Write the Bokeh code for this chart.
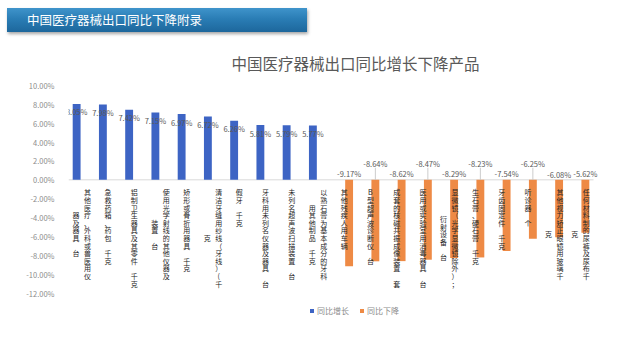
from bokeh.plotting import figure
from bokeh.models import (ColumnDataSource, Range1d, FixedTicker, PrintfTickFormatter,
                          Span, Label, Legend, LegendItem, Div)
from bokeh.layouts import column
from bokeh.core.properties import value
from bokeh.embed import file_html
from bokeh.resources import INLINE

FONT = "Noto Sans CJK SC"

# ---------------- data ----------------
banner_text = "中国医疗器械出口同比下降附录"
chart_title = "中国医疗器械出口同比增长下降产品"
series_names = ["同比增长", "同比下降"]

up_categories = [
    "其他医疗、外科或兽医用仪器及器具 台",
    "急救药箱、药包 千克",
    "铝制卫生器具及其零件 千克",
    "使用光学射线的其他仪器及装置 台",
    "矫形或骨折用器具 千克",
    "清洁牙缝用纱线（牙线）(千克",
    "假牙 千克",
    "牙科用未列名仪器及器具 台",
    "未列名超声波扫描装置 台",
    "以熟石膏为基本成分的牙科用其他制品 千克",
]
up_label_columns = [
    ["其他医疗、外科或兽医用仪", "器及器具 台"],
    ["急救药箱、药包 千克"],
    ["铝制卫生器具及其零件 千克"],
    ["使用光学射线的其他仪器及", "装置 台"],
    ["矫形或骨折用器具 千克"],
    ["清洁牙缝用纱线（牙线）(千", "克"],
    ["假牙 千克"],
    ["牙科用未列名仪器及器具 台"],
    ["未列名超声波扫描装置 台"],
    ["以熟石膏为基本成分的牙科", "用其他制品 千克"],
]
up_values = [8.05, 7.98, 7.42, 7.15, 6.97, 6.72, 6.26, 5.81, 5.79, 5.77]

down_categories = [
    "其他残疾人用车辆",
    "B型超声波诊断仪 台",
    "成套的核磁共振成像装置 套",
    "医用或实验室用消毒器具 台",
    "显微镜（光学显微镜除外）；衍射设备 台",
    "生石膏、硬石膏 千克",
    "牙齿固定件 千克",
    "听诊器 个",
    "其他视力矫正眼镜用玻璃千克",
    "任何材料制的尿裤及尿布千克",
]
down_label_columns = [
    ["其他残疾人用车辆"],
    ["B型超声波诊断仪 台"],
    ["成套的核磁共振成像装置 套"],
    ["医用或实验室用消毒器具 台"],
    ["显微镜（光学显微镜除外）；", "衍射设备 台"],
    ["生石膏、硬石膏 千克"],
    ["牙齿固定件 千克"],
    ["听诊器 个"],
    ["其他视力矫正眼镜用玻璃千", "克"],
    ["任何材料制的尿裤及尿布千", "克"],
]
down_values = [-9.17, -8.64, -8.62, -8.47, -8.29, -8.23, -7.54, -6.25, -6.08, -5.62]

y_ticks = [10, 8, 6, 4, 2, 0, -2, -4, -6, -8, -10, -12]

# ---------------- layout constants ----------------
W = 640
DIV_H = 40
FIG_H = 353 - DIV_H
BL = 68                      # left border (axis panel)
Y_TOP_PX = 85 - DIV_H        # pixel row of the top tick inside the figure
Y_BOT_PX = 292.5 - DIV_H     # pixel row of the bottom tick
CAT_PX = 26.25               # pixel width of one category slot
BLUE = "#3d64c4"
ORANGE = "#ee8a45"
GREY_TXT = "#595959"
AX_TXT = "#8c8c8c"
BAR_SHIFT = 0.19
BAR_W = 0.30

n_up = len(up_categories)
n_dn = len(down_categories)
x_up = list(range(n_up))
x_dn = list(range(n_up, n_up + n_dn))

tmax, tmin = max(y_ticks), min(y_ticks)
ppu = (Y_BOT_PX - Y_TOP_PX) / (tmax - tmin)
y_start = tmin - (FIG_H - Y_BOT_PX) / ppu
y_end = tmax + Y_TOP_PX / ppu
x_start = -0.5
x_end = x_start + (W - BL) / CAT_PX

p = figure(width=W, height=FIG_H, x_range=Range1d(x_start, x_end),
           y_range=Range1d(y_start, y_end),
           output_backend="svg", toolbar_location=None, title=None,
           min_border_left=BL, min_border_right=0, min_border_top=0, min_border_bottom=0)
p.outline_line_color = None
p.background_fill_color = "white"
p.border_fill_color = "white"
p.xgrid.visible = False
p.ygrid.visible = False
p.xaxis.visible = False

ya = p.yaxis[0]
ya.ticker = FixedTicker(ticks=y_ticks)
ya.formatter = PrintfTickFormatter(format="%.2f%%")
ya.axis_line_color = None
ya.major_tick_line_color = None
ya.minor_tick_line_color = None
ya.major_label_text_color = AX_TXT
ya.major_label_text_font = FONT
ya.major_label_text_font_size = "7.5px"
ya.major_label_standoff = 8

# zero line across the category area
p.segment(x0=[x_start], y0=[0], x1=[n_up + n_dn - 0.5], y1=[0], line_color="#d9d9d9", line_width=1)

# bars
up_src = ColumnDataSource(dict(x=[v - BAR_SHIFT for v in x_up], val=up_values,
                               lab=["%.2f%%" % v for v in up_values]))
down_src = ColumnDataSource(dict(x=[v + BAR_SHIFT for v in x_dn], val=down_values,
                                 lab=["%.2f%%" % v for v in down_values]))

r_up = p.vbar(x="x", top="val", bottom=0, width=BAR_W, source=up_src,
              fill_color=BLUE, line_color=None)
r_dn = p.vbar(x="x", top=0, bottom="val", width=BAR_W, source=down_src,
              fill_color=ORANGE, line_color=None)

# value labels for rising bars
p.text(x="x", y="val", text="lab", source=up_src, y_offset=8,
       text_align="center", text_baseline="middle",
       text_font=value(FONT), text_font_size="7.5px", text_color=GREY_TXT)

# value labels for falling bars (above the zero line, staggered)
lift_px = [6.5, 16.5, 6.5, 16.5, 6.5, 16.5, 6.5, 16.5, 5.5, 6.5]
down_src.data["yo"] = [-v for v in lift_px]
p.text(x="x", y=0, text="lab", source=down_src, y_offset="yo",
       text_align="center", text_baseline="middle",
       text_font=value(FONT), text_font_size="7.5px", text_color=GREY_TXT)
lead_x = [x for x, l in zip(down_src.data["x"], lift_px) if l > 10]
p.segment(x0=lead_x, y0=[0] * len(lead_x), x1=lead_x, y1=[12.0 / ppu] * len(lead_x),
          line_color="#bfbfbf", line_width=0.8)

# vertical category labels, one glyph per character
PITCH = 7.6
TOP = 7.5
COLGAP = 11.5
cx, cy, ct, cxo, cyo = [], [], [], [], []
for xi, cols in zip(x_up + x_dn, up_label_columns + down_label_columns):
    L = max(len(c) for c in cols)
    n = len(cols)
    for k, col in enumerate(cols):
        start = (L - len(col)) / 2.0
        for j, ch in enumerate(col):
            if ch == " ":
                continue
            cx.append(xi)
            cy.append(0)
            ct.append(ch)
            cxo.append(((n - 1) / 2.0 - k) * COLGAP)
            cyo.append(TOP + (start + j) * PITCH)
p.text(x="x", y="y", text="t", x_offset="xo", y_offset="yo",
       source=ColumnDataSource(dict(x=cx, y=cy, t=ct, xo=cxo, yo=cyo)),
       text_align="center", text_baseline="top",
       text_font=value(FONT), text_font_size="7px", text_color="#262626")

# chart title (screen units, relative to frame bottom-left)
p.add_layout(Label(x=355 - BL, y=FIG_H - (62 - DIV_H), x_units="screen", y_units="screen",
                   text=chart_title, text_align="center", text_baseline="middle",
                   text_font=FONT, text_font_size="15.5px", text_color=GREY_TXT))

# legend
legend = Legend(items=[LegendItem(label=series_names[0], renderers=[r_up]),
                       LegendItem(label=series_names[1], renderers=[r_dn])],
                location=(309 - BL, FIG_H - (316 - DIV_H)), orientation="horizontal",
                background_fill_alpha=0, border_line_color=None,
                glyph_width=5, glyph_height=5, label_standoff=3, spacing=10,
                padding=0, margin=0,
                label_text_font=FONT, label_text_font_size="8px", label_text_color=AX_TXT)
p.add_layout(legend)

banner = Div(
    text=("<div style=\"position:absolute;left:7px;top:8px;width:300px;height:24px;"
          "box-sizing:border-box;padding-left:20px;line-height:24px;"
          "background:linear-gradient(to bottom,#3f94cb 0%,#2a7db5 45%,#1d679c 100%);"
          "box-shadow:1px 2px 3px rgba(0,0,0,0.35);color:white;font-size:12.5px;"
          "font-family:'Noto Sans CJK SC';white-space:nowrap;\">" + banner_text + "</div>"),
    width=W, height=DIV_H, margin=0,
    styles={"position": "relative", "background": "white"})

layout = column(banner, p, spacing=0, margin=0)
open("out.html", "w").write(file_html(layout, INLINE))
